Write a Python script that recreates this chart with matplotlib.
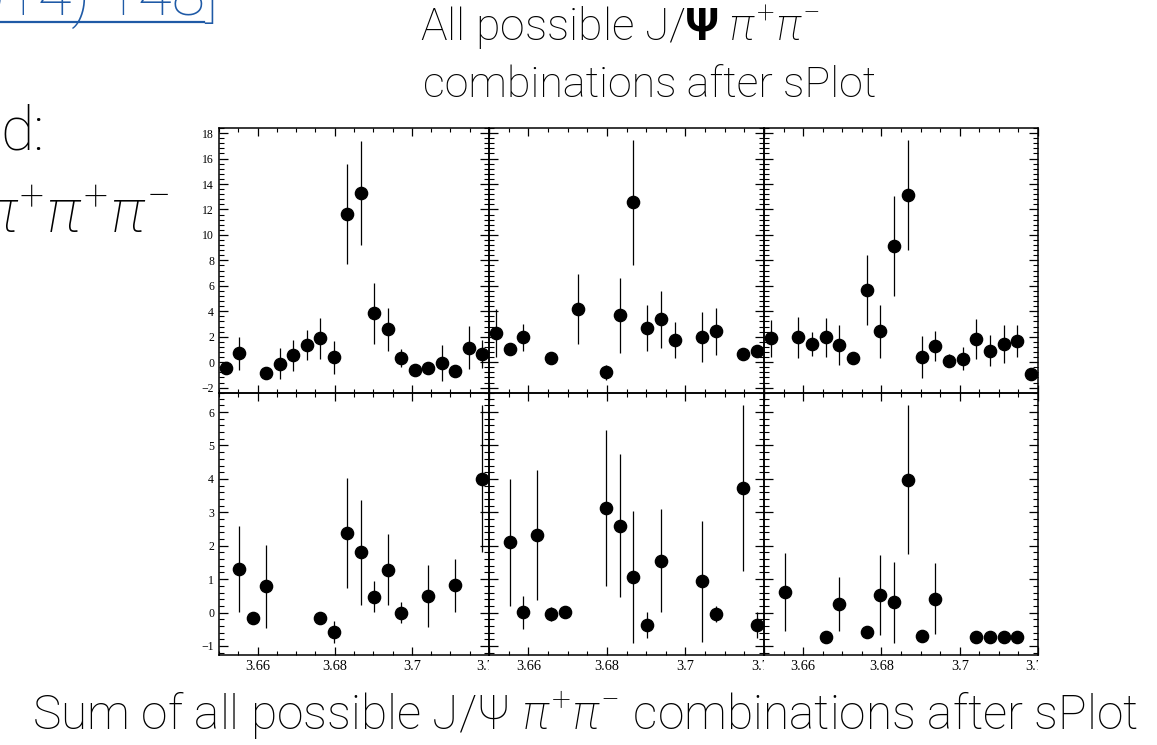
import numpy as np
import matplotlib
matplotlib.use("Agg")
import matplotlib.pyplot as plt
from matplotlib.ticker import MultipleLocator, FixedLocator, FixedFormatter
from matplotlib.transforms import Bbox, TransformedBbox
from matplotlib.lines import Line2D

nan = np.nan

# m(J/psi pi+ pi-) binning [GeV]
mass_lo, mass_hi, n_bins = 3.65, 3.72, 20

# sWeighted yields per bin and their errors (nan = empty bin)
# top row: all possible J/psi pi+ pi- combinations
top_left_val = [-0.48, 0.70, nan, -0.82, -0.11, 0.54, 1.35, 1.88, 0.39, 11.68,
                13.28, 3.85, 2.59, 0.33, -0.61, -0.48, -0.08, -0.66, 1.13, 0.62]
top_left_err = [0.30, 1.30, nan, 0.30, 1.20, 1.20, 1.15, 1.60, 1.30, 3.93,
                4.10, 2.40, 1.70, 0.68, 0.30, 0.30, 1.40, 0.30, 1.70, 1.10]

top_mid_val = [2.27, 1.01, 1.96, nan, 0.33, nan, 4.19, nan, -0.79, 3.69,
               12.55, 2.67, 3.37, 1.75, nan, 1.98, 2.43, nan, 0.62, 0.91]
top_mid_err = [1.90, 0.30, 1.07, nan, 0.30, nan, 2.76, nan, 0.60, 2.96,
               4.90, 1.80, 2.24, 1.44, nan, 2.00, 1.84, nan, 0.30, 0.30]

top_right_val = [1.88, nan, 1.96, 1.41, 1.96, 1.36, 0.31, 5.65, 2.43, 9.14,
                 13.12, 0.39, 1.30, 0.12, 0.28, 1.83, 0.91, 1.43, 1.67, -0.92]
top_right_err = [1.47, nan, 1.60, 0.95, 1.55, 1.55, 0.30, 2.75, 2.07, 3.95,
                 4.30, 1.63, 1.18, 0.50, 0.90, 1.55, 1.20, 1.50, 1.23, 0.30]

# bottom row: sum of all possible combinations
bot_left_val = [nan, 1.30, -0.16, 0.78, nan, nan, nan, -0.16, -0.58, 2.38,
                1.80, 0.47, 1.28, 0.00, nan, 0.50, nan, 0.81, nan, 4.00]
bot_left_err = [nan, 1.29, 0.12, 1.24, nan, nan, nan, 0.12, 0.34, 1.65,
                1.56, 0.46, 1.06, 0.32, nan, 0.92, nan, 0.80, nan, 2.20]

bot_mid_val = [nan, 2.10, 0.01, 2.32, -0.04, 0.01, nan, nan, 3.13, 2.60,
               1.06, -0.37, 1.55, nan, nan, 0.93, -0.05, nan, 3.73, -0.37]
bot_mid_err = [nan, 1.90, 0.49, 1.94, 0.22, 0.12, nan, nan, 2.34, 2.14,
               1.97, 0.40, 1.54, nan, nan, 1.80, 0.24, nan, 2.48, 0.40]

bot_right_val = [nan, 0.62, nan, nan, -0.73, 0.25, nan, -0.58, 0.52, 0.31,
                 3.98, -0.71, 0.42, nan, nan, -0.73, -0.73, -0.73, -0.73, nan]
bot_right_err = [nan, 1.16, nan, nan, 0.12, 0.80, nan, 0.12, 1.19, 1.21,
                 2.22, 0.12, 1.06, nan, nan, 0.12, 0.12, 0.12, 0.12, nan]

x_tick_values = [3.66, 3.68, 3.70]
x_tick_labels = ["3.66", "3.68", "3.7"]
edge_label = "3.72"

top_ylim = (-2.42, 18.4)
bot_ylim = (-1.27, 6.57)

panels = [
    [(top_left_val, top_left_err), (top_mid_val, top_mid_err), (top_right_val, top_right_err)],
    [(bot_left_val, bot_left_err), (bot_mid_val, bot_mid_err), (bot_right_val, bot_right_err)],
]

W, H = 1157, 745
col_edges = [219, 489, 764, 1038]
row_edges = [128, 393, 655]

plt.rcParams["mathtext.fontset"] = "custom"
plt.rcParams["mathtext.rm"] = "Roboto:light"
plt.rcParams["mathtext.it"] = "Roboto:italic:light"
plt.rcParams["mathtext.bf"] = "Roboto:bold"

fig = plt.figure(figsize=(W / 100, H / 100), dpi=100)
fig.patch.set_facecolor("white")

bin_w = (mass_hi - mass_lo) / n_bins
centers = mass_lo + bin_w * (np.arange(n_bins) + 0.5)

serif = "Liberation Serif"
x_label_size = 10.3
y_label_size = 8.5
label_pad = 3.5

for r in range(2):
    for c in range(3):
        left = col_edges[c] / W
        width = (col_edges[c + 1] - col_edges[c]) / W
        bottom = 1 - row_edges[r + 1] / H
        height = (row_edges[r + 1] - row_edges[r]) / H
        ax = fig.add_axes([left, bottom, width, height])
        ax.set_facecolor("none")
        vals, errs = panels[r][c]
        vals = np.asarray(vals, float)
        errs = np.asarray(errs, float)
        ok = ~np.isnan(vals)
        ax.errorbar(centers[ok], vals[ok], yerr=errs[ok], fmt="o", color="black",
                    ms=8.8, elinewidth=0.9, capsize=0, clip_on=False, zorder=3)
        ax.set_xlim(mass_lo, mass_hi)
        ax.set_ylim(top_ylim if r == 0 else bot_ylim)

        ax.xaxis.set_major_locator(FixedLocator(x_tick_values + [mass_hi]))
        ax.xaxis.set_major_formatter(FixedFormatter(x_tick_labels + [""]))
        ax.xaxis.set_minor_locator(MultipleLocator(0.005))
        if r == 0:
            ax.yaxis.set_major_locator(MultipleLocator(2))
            ax.yaxis.set_minor_locator(MultipleLocator(0.4))
        else:
            ax.yaxis.set_major_locator(MultipleLocator(1))
            ax.yaxis.set_minor_locator(MultipleLocator(0.2))

        ax.tick_params(which="both", direction="in", top=True, right=True,
                       labelleft=(c == 0), labelbottom=(r == 1), pad=label_pad,
                       colors="black")
        ax.tick_params(axis="x", which="major", length=5.5, width=0.9)
        ax.tick_params(axis="x", which="minor", length=2.8, width=0.8)
        ax.tick_params(axis="y", which="major", length=6.5, width=0.9)
        ax.tick_params(axis="y", which="minor", length=3.5, width=0.8)
        for lab in ax.get_xticklabels():
            lab.set_fontfamily(serif)
            lab.set_fontsize(x_label_size)
        for lab in ax.get_yticklabels():
            lab.set_fontfamily(serif)
            lab.set_fontsize(y_label_size)
        for sp in ax.spines.values():
            sp.set_linewidth(1.1)
            sp.set_color("black")

        # last x label sits on the pad boundary and is cut there
        if r == 1:
            pos = ax.get_position()
            t = fig.text(pos.x1, pos.y0 - (label_pad * 100 / 72) / H, edge_label,
                         ha="center", va="top", family=serif, size=x_label_size)
            t.set_clip_box(TransformedBbox(Bbox([[pos.x0, 0], [pos.x1, pos.y0]]),
                                           fig.transFigure))
            t.set_clip_on(True)

slide_font = dict(family="Roboto", weight="light", color="black")

fig.text(420 / W, 1 - 41 / H, r"All possible J/$\mathbf{\Psi}$ $\pi^{+}\pi^{-}$",
         fontsize=32, ha="left", va="baseline", **slide_font)
fig.text(423 / W, 1 - 97 / H, "combinations after sPlot",
         fontsize=31, ha="left", va="baseline", **slide_font)
fig.text(585 / W, 1 - 730 / H,
         r"Sum of all possible J/$\Psi$ $\pi^{+}\pi^{-}$ combinations after sPlot",
         fontsize=34.5, ha="center", va="baseline", **slide_font)

fig.text(0, 1 - 150 / H, "d:", fontsize=44, ha="left", va="baseline", **slide_font)
fig.text(170 / W, 1 - 233 / H, r"$\pi^{+}\pi^{+}\pi^{-}$",
         fontsize=44, ha="right", va="baseline", **slide_font)

link_blue = "#1f5aa6"
fig.text(218 / W, 1 - 15 / H, "014) 148]", fontsize=44, ha="right", va="baseline",
         family="Roboto", weight="light", color=link_blue)
fig.add_artist(Line2D([0, 204 / W], [1 - 22 / H, 1 - 22 / H], color=link_blue,
                      lw=1.6, transform=fig.transFigure))

fig.savefig("out.png", dpi=100, facecolor="white")
